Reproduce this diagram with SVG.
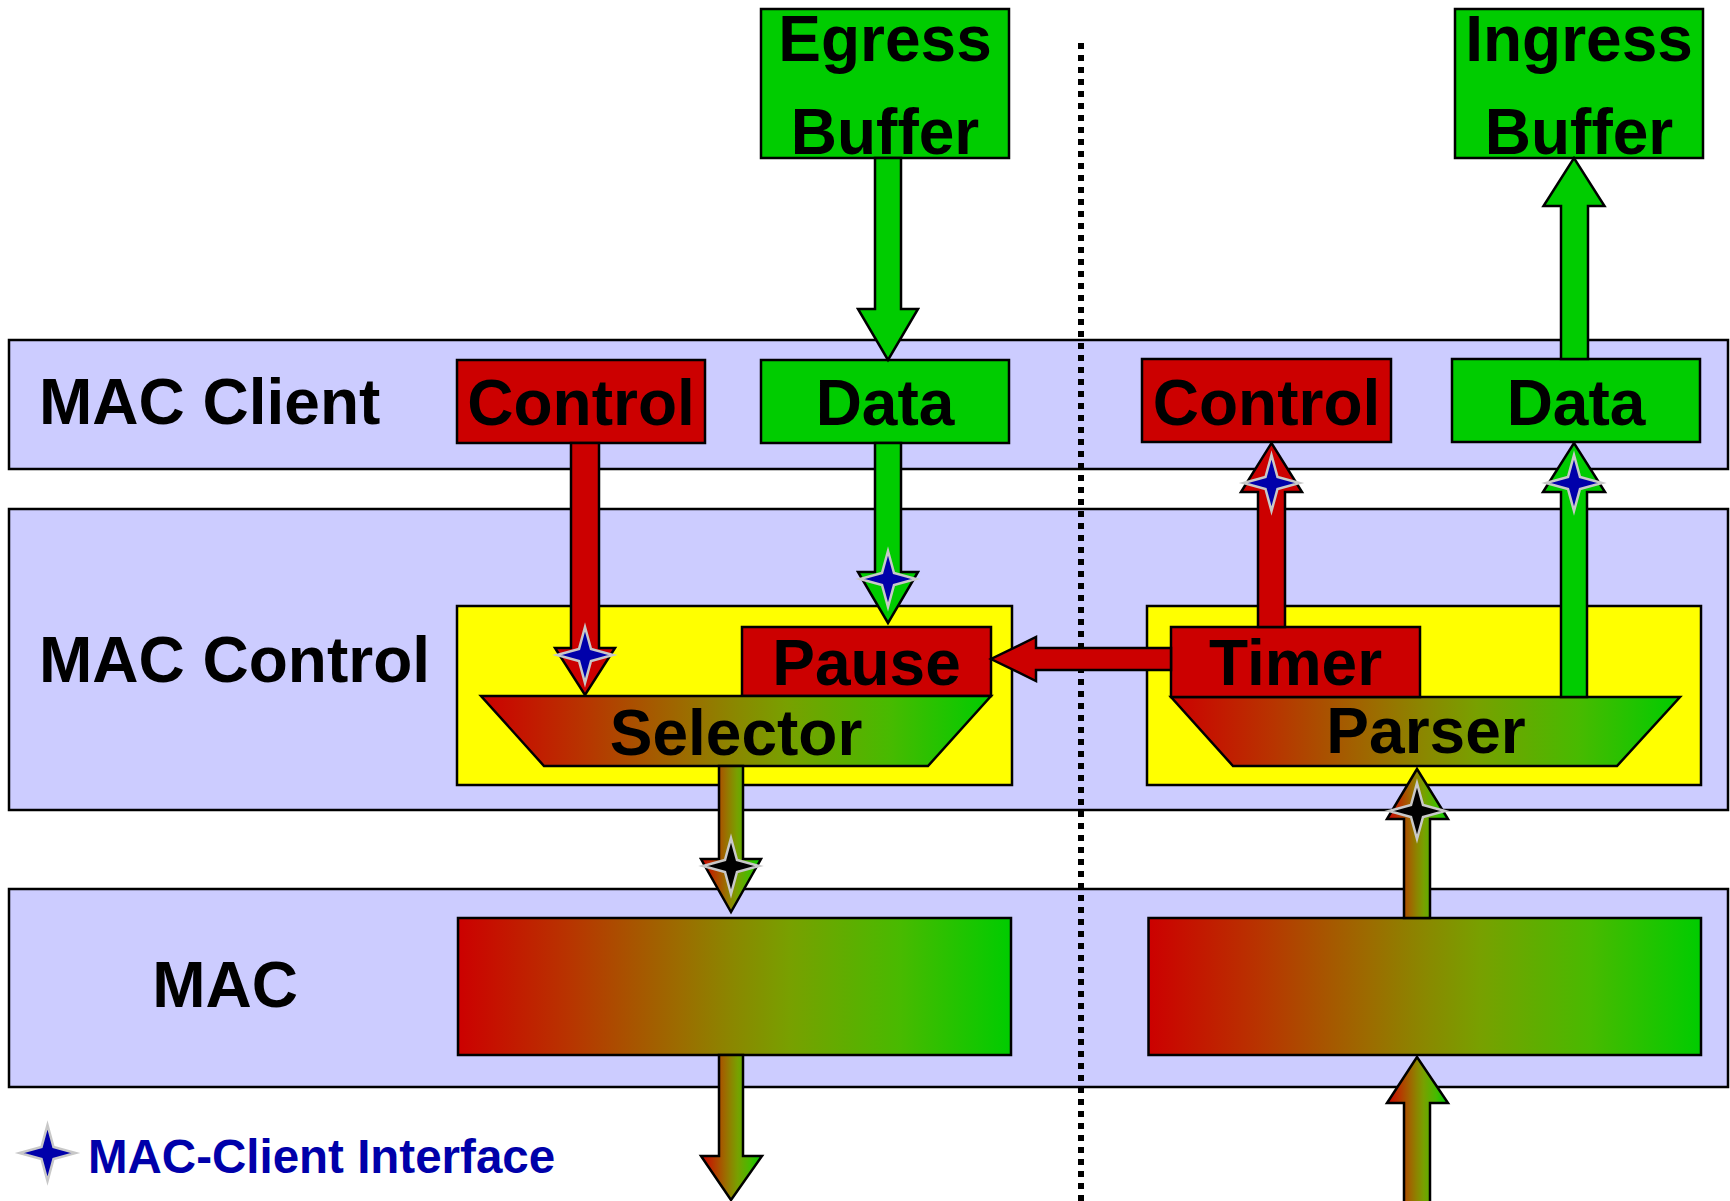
<svg xmlns="http://www.w3.org/2000/svg" width="1730" height="1201" viewBox="0 0 1730 1201">
  <defs>
    <!-- red-to-green blend used by MAC blocks, Selector, Parser and MAC-side arrows -->
    <linearGradient id="rg" x1="0" y1="0" x2="1" y2="0">
      <stop offset="0" stop-color="#CC0000"/>
      <stop offset="0.2" stop-color="#B83400"/>
      <stop offset="0.4" stop-color="#9C6C00"/>
      <stop offset="0.5" stop-color="#8A8800"/>
      <stop offset="0.6" stop-color="#78A000"/>
      <stop offset="0.8" stop-color="#48BA00"/>
      <stop offset="1" stop-color="#00CC00"/>
    </linearGradient>
    <!-- four-pointed star marking a MAC-Client interface point -->
    <path id="star" d="M0,-28 L6,-6 L28,0 L6,6 L0,28 L-6,6 L-28,0 L-6,-6 Z"/>
  </defs>
  <style>
    .band { fill: #CCCCFF; stroke: #000; stroke-width: 2.5; }
    .red { fill: #CC0000; stroke: #000; stroke-width: 2.5; }
    .green { fill: #00CC00; stroke: #000; stroke-width: 2.5; }
    .yellow { fill: #FFFF00; stroke: #000; stroke-width: 2.5; }
    .grad { fill: url(#rg); stroke: #000; stroke-width: 2.5; }
    .lbl { font-family: "Liberation Sans", Arial, sans-serif; font-weight: bold; font-size: 64px; fill: #000; }
    .mid { text-anchor: middle; }
    .sep { stroke: #000; stroke-width: 6; stroke-dasharray: 6 6; fill: none; }
    .s-blue { fill: #0000AA; stroke: #C8C8C8; stroke-width: 2.5; }
    .s-black { fill: #000; stroke: #C8C8C8; stroke-width: 2.5; }
    .legend { font-family: "Liberation Sans", Arial, sans-serif; font-weight: bold; font-size: 47.5px; fill: #0000AA; }
  </style>

  <rect width="1730" height="1201" fill="#FFFFFF"/>

  <!-- layer bands -->
  <g id="band-mac-client">
    <rect class="band" x="9" y="340" width="1719" height="129"/>
    <text class="lbl" x="39" y="424">MAC Client</text>
  </g>
  <g id="band-mac-control">
    <rect class="band" x="9" y="509" width="1719" height="301"/>
    <text class="lbl" x="39" y="682">MAC Control</text>
  </g>
  <g id="band-mac">
    <rect class="band" x="9" y="889" width="1719" height="198"/>
    <text class="lbl mid" x="225" y="1007">MAC</text>
  </g>

  <!-- transmit / receive divider -->
  <line class="sep" x1="1081" y1="43" x2="1081" y2="1201"/>

  <!-- transmit side -->
  <g id="egress-buffer">
    <rect class="green" x="761" y="9" width="248" height="149"/>
    <text class="lbl mid" x="885" y="61">Egress</text>
    <text class="lbl mid" x="885" y="154">Buffer</text>
  </g>
  <g id="tx-control">
    <rect class="red" x="457" y="360" width="248" height="83"/>
    <text class="lbl mid" x="581" y="425">Control</text>
  </g>
  <g id="tx-data">
    <rect class="green" x="761" y="360" width="248" height="83"/>
    <text class="lbl mid" x="885" y="425">Data</text>
  </g>
  <g id="tx-control-block">
    <rect class="yellow" x="457" y="606" width="555" height="179"/>
  </g>
  <g id="pause">
    <rect class="red" x="742" y="627" width="249" height="69"/>
    <text class="lbl mid" x="866.5" y="685">Pause</text>
  </g>
  <g id="selector">
    <polygon class="grad" points="481,696 991,696 928,766 544,766"/>
    <text class="lbl mid" x="736" y="755">Selector</text>
  </g>
  <g id="tx-mac">
    <rect class="grad" x="458" y="918" width="553" height="137"/>
  </g>

  <!-- receive side -->
  <g id="ingress-buffer">
    <rect class="green" x="1455" y="9" width="248" height="149"/>
    <text class="lbl mid" x="1579" y="61">Ingress</text>
    <text class="lbl mid" x="1579" y="154">Buffer</text>
  </g>
  <g id="rx-control">
    <rect class="red" x="1142" y="359" width="249" height="83"/>
    <text class="lbl mid" x="1266.5" y="425">Control</text>
  </g>
  <g id="rx-data">
    <rect class="green" x="1452" y="359" width="248" height="83"/>
    <text class="lbl mid" x="1576" y="425">Data</text>
  </g>
  <g id="rx-control-block">
    <rect class="yellow" x="1147" y="606" width="554" height="179"/>
  </g>
  <g id="parser">
    <polygon class="grad" points="1171,697 1680,697 1617,766 1233,766"/>
    <text class="lbl mid" x="1426" y="753">Parser</text>
  </g>
  <g id="timer">
    <rect class="red" x="1171" y="627" width="249" height="70"/>
    <text class="lbl mid" x="1295.5" y="685">Timer</text>
  </g>
  <g id="rx-mac">
    <rect class="grad" x="1148.5" y="918" width="552.5" height="137"/>
  </g>

  <!-- connectors -->
  <g id="connectors">
    <polygon class="green" points="875,158 901,158 901,309 918,309 888,360 858,309 875,309"/>
    <polygon class="green" points="875,443 901,443 901,572 918,572 888,623 858,572 875,572"/>
    <polygon class="red" points="571,443 599,443 599,648 615,648 585,695 555,648 571,648"/>
    <polygon class="grad" points="719,766 743,766 743,859 761,859 731,912 701,859 719,859"/>
    <polygon class="grad" points="719,1055 743,1055 743,1156 762,1156 731,1200 701,1156 719,1156"/>
    <polygon class="red" points="1171,648 1036,648 1036,637 991,659 1036,681 1036,670 1171,670"/>
    <polygon class="red" points="1258,627 1285,627 1285,492 1302,492 1271.5,443 1241,492 1258,492"/>
    <polygon class="green" points="1561,697 1587,697 1587,492 1605,492 1574,443 1543,492 1561,492"/>
    <polygon class="green" points="1561,359 1588,359 1588,206 1604.5,206 1574,158 1543.5,206 1561,206"/>
    <polygon class="grad" points="1404,918 1430,918 1430,819 1448,819 1417,769 1387,819 1404,819"/>
    <polygon class="grad" points="1404,1203 1430,1203 1430,1103 1448,1103 1417,1057 1387,1103 1404,1103"/>
  </g>

  <!-- MAC-Client interface markers -->
  <g id="interface-markers">
    <use href="#star" class="s-blue" x="585" y="655"/>
    <use href="#star" class="s-blue" x="888" y="579"/>
    <use href="#star" class="s-black" x="731" y="866"/>
    <use href="#star" class="s-blue" x="1271.5" y="483"/>
    <use href="#star" class="s-blue" x="1574" y="483"/>
    <use href="#star" class="s-black" x="1417" y="811"/>
  </g>

  <!-- legend -->
  <g id="legend">
    <use href="#star" class="s-blue" x="47.5" y="1153"/>
    <text class="legend" x="88" y="1173">MAC-Client Interface</text>
  </g>
</svg>
